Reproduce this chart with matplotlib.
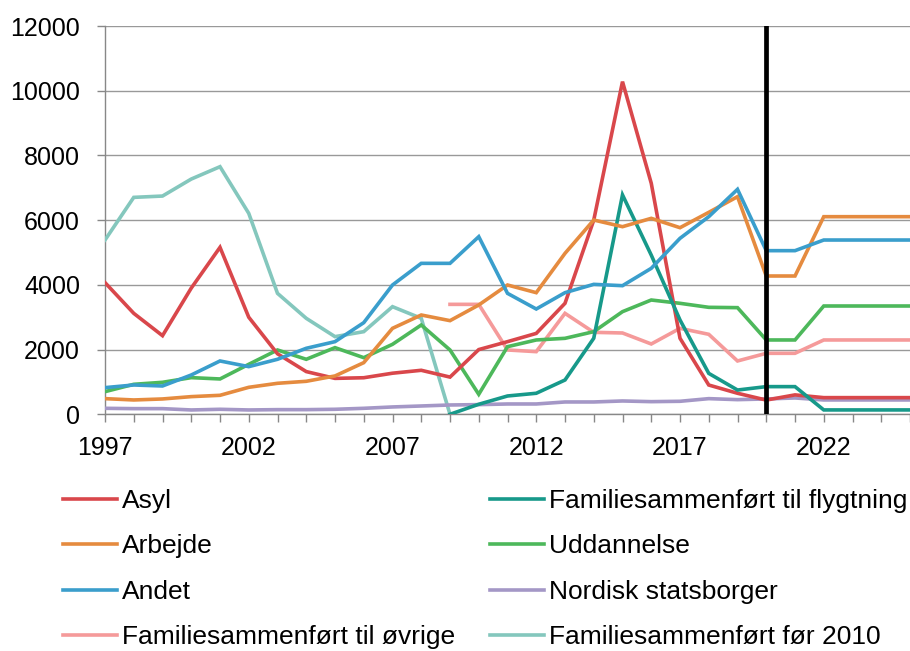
import matplotlib
matplotlib.use("Agg")
import matplotlib.pyplot as plt
import numpy as np

plt.rcParams['font.family'] = ['Liberation Sans', 'DejaVu Sans']

years = list(range(1997, 2026))

asyl = [4070, 3120, 2430, 3900, 5160, 3000, 1870, 1320, 1110, 1130, 1270, 1360, 1150,
        2000, 2245, 2500, 3430, 6000, 10280, 7140, 2350, 905, 650, 440, 600, 515, 515, 515, 515]
arbejde = [484, 443, 474, 546, 587, 834, 958, 1020, 1185, 1596, 2657, 3069, 2894,
           3378, 3996, 3759, 4974, 6004, 5798, 6056, 5767, 6241, 6725, 4274, 4274, 6107, 6107, 6107, 6107]
andet = [824, 906, 875, 1215, 1648, 1473, 1700, 2040, 2245, 2832, 3996, 4665, 4665,
         5489, 3738, 3254, 3759, 4016, 3975, 4511, 5438, 6107, 6952, 5057, 5057, 5386, 5386, 5386, 5386]
fam_ovrige = [None] * 12 + [3398, 3398, 1988, 1936, 3120, 2533, 2513, 2173, 2657, 2472, 1648,
                            1885, 1885, 2297, 2297, 2297, 2297]
fam_flygtning = [None] * 12 + [0, 310, 566, 650, 1060, 2350, 6780, 4920, 2915, 1265, 750,
                               855, 855, 135, 135, 135, 135]
uddannelse = [700, 927, 989, 1133, 1092, 1545, 1988, 1700, 2060, 1750, 2163, 2760, 1988,
              618, 2090, 2297, 2348, 2554, 3172, 3532, 3430, 3306, 3296, 2297, 2297, 3347, 3347, 3347, 3347]
nordisk = [185, 175, 175, 134, 155, 134, 144, 144, 155, 185, 227, 257, 288,
           299, 319, 319, 381, 381, 412, 391, 402, 484, 453, 474, 505, 443, 443, 443, 443]
fam_for2010 = [5386, 6704, 6745, 7270, 7652, 6210, 3738, 2966, 2400, 2554, 3326, 2966, 0] + [None] * 16

series = [
    ("Asyl", asyl, "#d9474b"),
    ("Arbejde", arbejde, "#e58b3f"),
    ("Andet", andet, "#3a9ecc"),
    ("Familiesammenført til øvrige", fam_ovrige, "#f59a9a"),
    ("Familiesammenført til flygtning", fam_flygtning, "#17998a"),
    ("Uddannelse", uddannelse, "#4db85b"),
    ("Nordisk statsborger", nordisk, "#a497c6"),
    ("Familiesammenført før 2010", fam_for2010, "#84c7bd"),
]
draw_order = [7, 6, 3, 5, 0, 4, 1, 2]

fig = plt.figure(figsize=(9.10, 6.51), dpi=100)
ax = fig.add_axes([105 / 910, 1 - 414.3 / 651, 805 / 910, (414.3 - 26) / 651])

handles = {}
for i in draw_order:
    name, vals, col = series[i]
    y = np.array([np.nan if v is None else v for v in vals], dtype=float)
    h, = ax.plot(years, y, color=col, lw=2.6, label=name, solid_joinstyle='miter', zorder=3)
    handles[i] = h

ax.axvline(2020, color='black', lw=3.4, zorder=4, ymin=0, ymax=1)

ax.set_xlim(1997, 1997 + 805 / 28.93)
ax.set_ylim(0, 12000)
ax.set_yticks(range(0, 12001, 2000))
ax.set_xticks(years)
ax.set_xticklabels([str(y) if (y - 1997) % 5 == 0 else "" for y in years])
ax.grid(axis='y', color='#999999', lw=1.0, zorder=0)
ax.set_axisbelow(True)
for s in ['top', 'right']:
    ax.spines[s].set_visible(False)
for s in ['left', 'bottom']:
    ax.spines[s].set_color('#888888')
    ax.spines[s].set_linewidth(1.0)
ax.tick_params(axis='both', direction='out', length=6, width=1.0, color='#888888',
               labelsize=18, labelcolor='black')
ax.tick_params(axis='y', pad=12)
ax.tick_params(axis='x', pad=9.5)

leg = fig.legend([handles[i] for i in range(8)], [series[i][0] for i in range(8)],
                 ncol=2, loc='upper left', bbox_to_anchor=(63 / 910, 1 - 489 / 651),
                 frameon=False, fontsize=19, handlelength=2.05, handletextpad=0.19,
                 labelspacing=0.81, columnspacing=1.33, borderaxespad=0, borderpad=0)

fig.savefig("out.png", dpi=100)
